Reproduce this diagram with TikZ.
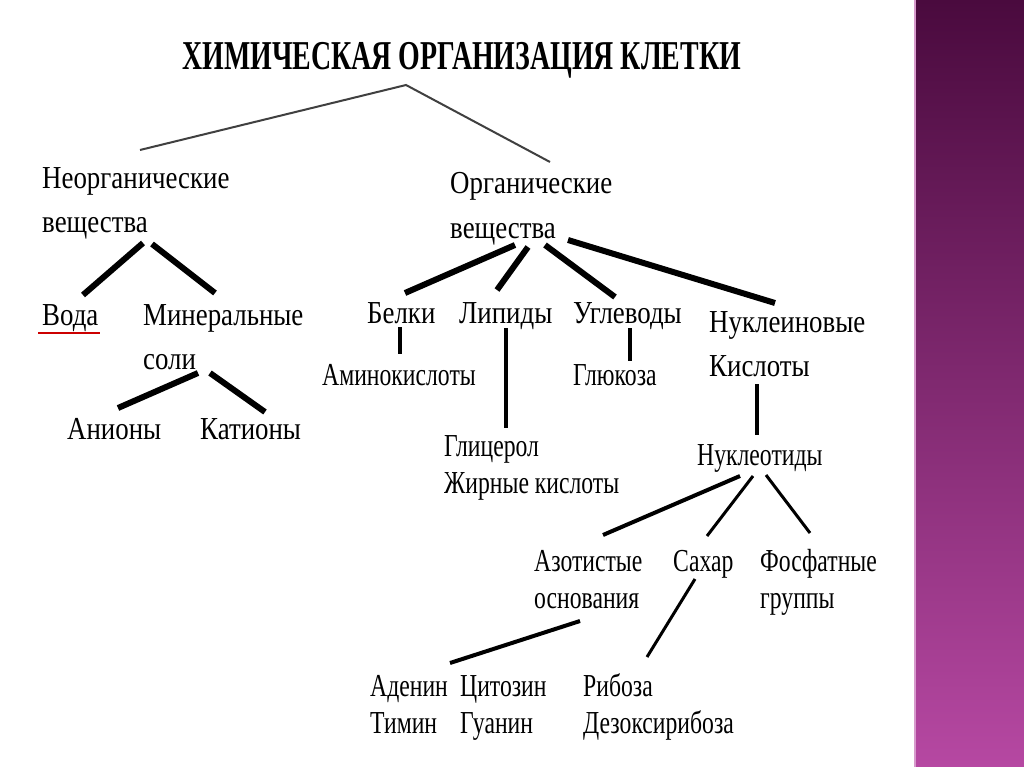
\documentclass[tikz,border=0pt]{standalone}
\usepackage{fontspec}
\newfontfamily\lbfont{Liberation Serif}[FakeStretch=0.84]
\newfontfamily\ngfont{Liberation Serif}[FakeStretch=0.74]
\newfontfamily\titfont{Liberation Serif}[FakeStretch=0.68]

\begin{document}
\begin{tikzpicture}[x=1pt, y=-1pt]
    \tikzstyle{every node} = [inner sep=0pt, anchor=base west, text=black]
    \tikzstyle{lbl}  = [font=\lbfont\fontsize{32}{44}\selectfont, align=left]
    \tikzstyle{lblm} = [font=\ngfont\fontsize{32}{37}\selectfont, align=left]
    \tikzstyle{tyt}  = [font=\titfont\bfseries\fontsize{41}{41}\selectfont]
    \tikzstyle{tolst}   = [line width=6pt]
    \tikzstyle{mediu}   = [line width=4pt]
    \tikzstyle{subtire} = [line width=3pt]
    \tikzstyle{fir}     = [line width=2pt, color=black!75]

    \definecolor{mov1}{RGB}{74,10,62}
    \definecolor{mov2}{RGB}{182,72,162}

    % fundal + banda din dreapta
    \useasboundingbox (0,0) rectangle (1024,767);
    \fill[white] (0,0) rectangle (914,767);
    \shade[top color=mov1, bottom color=mov2] (914,0) rectangle (1024,767);
    \draw[line width=2pt, mov2!55!white] (915,0) -- (915,767);

    % texte (ancora = linia de baza a ultimului rand)
    \node[tyt] (tit) at (182,70) {ХИМИЧЕСКАЯ ОРГАНИЗАЦИЯ КЛЕТКИ};
    \node[lbl] (neorg) at (42,233) {Неорганические\\вещества};
    \node[lbl] (org) at (450,238) {Органические\\вещества};
    \node[lbl] (voda) at (42,325) {Вода};
    \node[lbl] (miner) at (143,369) {Минеральные\\соли};
    \node[lbl] (anion) at (67,439) {Анионы};
    \node[lbl] (kation) at (200,439) {Катионы};
    \node[lbl] (belki) at (367,323) {Белки};
    \node[lbl] (lipid) at (459,323) {Липиды};
    \node[lbl] (uglev) at (573,323) {Углеводы};
    \node[lbl] (nukl) at (709,376) {Нуклеиновые\\Кислоты};
    \node[lblm] (amino) at (322,385) {Аминокислоты};
    \node[lblm] (gluk) at (573,385) {Глюкоза};
    \node[lblm] (glic) at (444,493) {Глицерол\\Жирные кислоты};
    \node[lblm] (nuklt) at (697,465) {Нуклеотиды};
    \node[lblm] (azot) at (534,608) {Азотистые\\основания};
    \node[lblm] (sahar) at (673,571) {Сахар};
    \node[lblm] (fosf) at (760,608) {Фосфатные\\группы};
    \node[lblm] (aden) at (370,733) {Аденин\\Тимин};
    \node[lblm] (citoz) at (460,733) {Цитозин\\Гуанин};
    \node[lblm] (ribo) at (583,733) {Рибоза\\Дезоксирибоза};

    \draw[red!80!black, line width=1.5pt] ([shift={(-4,8)}]voda.base west) -- ([shift={(58,8)}]voda.base west);

    % legaturi
    \draw[fir] ([shift={(98,-83)}]neorg.base west) -- ([shift={(224,15)}]tit.base west)
               -- ([shift={(100,-76)}]org.base west);

    \foreach \p/\ps/\c/\cs in {neorg/{101,10}/voda/{41,-30}, neorg/{110,11}/miner/{72,-76},
                               miner/{55,4}/anion/{51,-31}, miner/{67,4}/kation/{65,-27},
                               org/{65,7}/belki/{38,-30}, org/{78,9}/lipid/{38,-33},
                               org/{95,7}/uglev/{42,-26}, org/{118,2}/nukl/{66,-73}}
        \draw[tolst] ([shift={(\ps)}]\p.base west) -- ([shift={(\cs)}]\c.base west);

    \foreach \p/\ps/\c/\cs in {belki/{33,4}/amino/{78,-31}, lipid/{47,5}/glic/{62,-65},
                               uglev/{57,5}/gluk/{57,-24}, nukl/{48,8}/nuklt/{60,-30},
                               nuklt/{43,11}/azot/{69,-73}, azot/{46,13}/aden/{80,-70}}
        \draw[mediu] ([shift={(\ps)}]\p.base west) -- ([shift={(\cs)}]\c.base west);

    \foreach \p/\ps/\c/\cs in {nuklt/{56,11}/sahar/{34,-35}, nuklt/{69,10}/fosf/{50,-75},
                               sahar/{22,8}/ribo/{64,-76}}
        \draw[subtire] ([shift={(\ps)}]\p.base west) -- ([shift={(\cs)}]\c.base west);
\end{tikzpicture}
\end{document}
